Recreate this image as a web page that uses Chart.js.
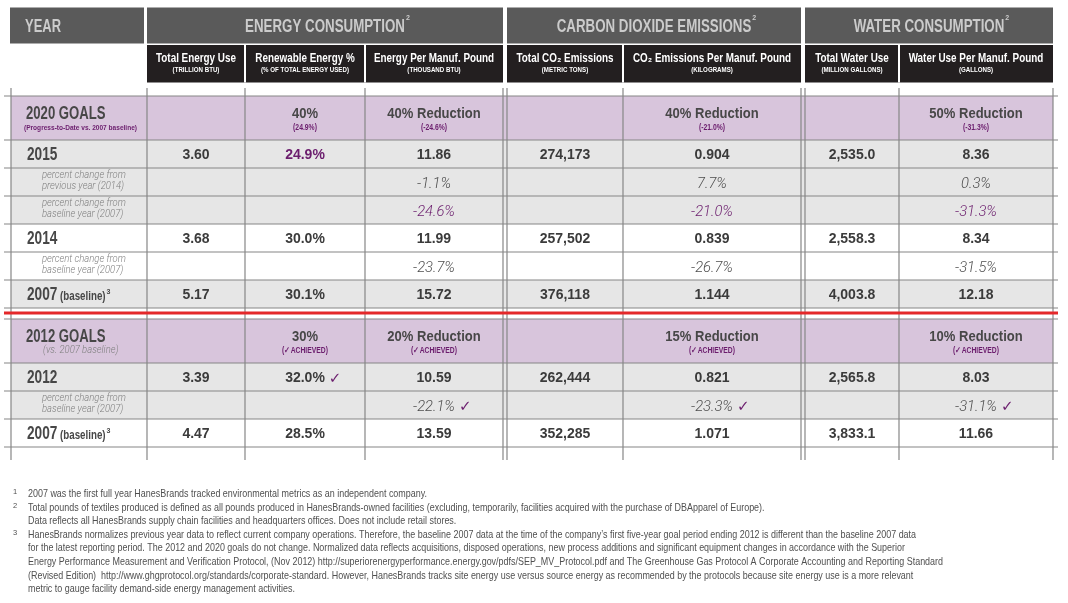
<!DOCTYPE html>
<html>
<head>
<meta charset="utf-8">
<script src="https://cdn.jsdelivr.net/npm/chart.js@4.4.1/dist/chart.umd.min.js"></script>
<style>
  html, body { margin: 0; padding: 0; background: #fff; }
  #wrap { width: 1068px; height: 603px; position: relative; }
</style>
</head>
<body>
<div id="wrap"><canvas id="tbl"></canvas></div>
<script>
// ---- data ----
const groupTitles = ['ENERGY CONSUMPTION', 'CARBON DIOXIDE EMISSIONS', 'WATER CONSUMPTION'];
const metricNames = ['Total Energy Use', 'Renewable Energy %', 'Energy Per Manuf. Pound', 'Total CO₂ Emissions', 'CO₂ Emissions Per Manuf. Pound', 'Total Water Use', 'Water Use Per Manuf. Pound'];
const metricUnits = ['(TRILLION BTU)', '(% OF TOTAL ENERGY USED)', '(THOUSAND BTU)', '(METRIC TONS)', '(KILOGRAMS)', '(MILLION GALLONS)', '(GALLONS)'];

const goals2020 = ['', '40%', '40% Reduction', '', '40% Reduction', '', '50% Reduction'];
const progress2020 = ['', '(24.9%)', '(-24.6%)', '', '(-21.0%)', '', '(-31.3%)'];
const values2015 = ['3.60', '24.9%', '11.86', '274,173', '0.904', '2,535.0', '8.36'];
const change2015vs2014 = ['', '', '-1.1%', '', '7.7%', '', '0.3%'];
const change2015vs2007 = ['', '', '-24.6%', '', '-21.0%', '', '-31.3%'];
const values2014 = ['3.68', '30.0%', '11.99', '257,502', '0.839', '2,558.3', '8.34'];
const change2014vs2007 = ['', '', '-23.7%', '', '-26.7%', '', '-31.5%'];
const values2007 = ['5.17', '30.1%', '15.72', '376,118', '1.144', '4,003.8', '12.18'];

const goals2012 = ['', '30%', '20% Reduction', '', '15% Reduction', '', '10% Reduction'];
const status2012 = ['', '(✓ACHIEVED)', '(✓ACHIEVED)', '', '(✓ACHIEVED)', '', '(✓ACHIEVED)'];
const values2012 = ['3.39', '32.0%', '10.59', '262,444', '0.821', '2,565.8', '8.03'];
const achieved2012 = [false, true, false, false, false, false, false];
const change2012vs2007 = ['', '', '-22.1%', '', '-23.3%', '', '-31.1%'];
const achievedChange2012 = [false, false, true, false, true, false, true];
const values2007b = ['4.47', '28.5%', '13.59', '352,285', '1.071', '3,833.1', '11.66'];

const footnotes = [
  ['2007 was the first full year HanesBrands tracked environmental metrics as an independent company.'],
  ['Total pounds of textiles produced is defined as all pounds produced in HanesBrands-owned facilities (excluding, temporarily, facilities acquired with the purchase of DBApparel of Europe).',
   'Data reflects all HanesBrands supply chain facilities and headquarters offices. Does not include retail stores.'],
  ['HanesBrands normalizes previous year data to reflect current company operations. Therefore, the baseline 2007 data at the time of the company’s first five-year goal period ending 2012 is different than the baseline 2007 data',
   'for the latest reporting period. The 2012 and 2020 goals do not change. Normalized data reflects acquisitions, disposed operations, new process additions and significant equipment changes in accordance with the Superior',
   'Energy Performance Measurement and Verification Protocol, (Nov 2012) http://superiorenergyperformance.energy.gov/pdfs/SEP_MV_Protocol.pdf and The Greenhouse Gas Protocol A Corporate Accounting and Reporting Standard',
   '(Revised Edition)  http://www.ghgprotocol.org/standards/corporate-standard. However, HanesBrands tracks site energy use versus source energy as recommended by the protocols because site energy use is a more relevant',
   'metric to gauge facility demand-side energy management activities.']
];

// ---- layout (scale units) ----
const metricCols = [[147, 245], [245, 365], [365, 503], [507, 623], [623, 801], [805, 899], [899, 1053]];
const groupCols = [[147, 503], [507, 801], [805, 1053]];
const vLines = [11, 147, 245, 365, 503, 507, 623, 801, 805, 899, 1053];

const C = {
  head: '#5a5a5a', headText: '#cbcbcb', sub: '#231f20', lav: '#d8c5dc', gray: '#e6e6e6',
  grid: '#868686', red: '#e4282a', purple: '#6b1d6d', dark: '#3b3b3b', label: '#474747',
  italic: '#4e4e4e', note: '#808080', foot: '#505050'
};
const SANS = '"Liberation Sans", Arial, sans-serif';
const LIGHT = 'Roboto, "Liberation Sans", sans-serif';

function txt(ctx, s, x, y, font, color, align, sx) {
  ctx.save();
  ctx.font = font;
  ctx.fillStyle = color;
  ctx.textBaseline = 'alphabetic';
  ctx.textAlign = 'left';
  const w = ctx.measureText(s).width * sx;
  const x0 = align === 'center' ? x - w / 2 : align === 'right' ? x - w : x;
  ctx.translate(x0, y);
  ctx.scale(sx, 1);
  ctx.fillText(s, 0, 0);
  ctx.restore();
  return x0 + w;
}

const tablePlugin = {
  id: 'tableDraw',
  afterDraw(chart) {
    const ctx = chart.ctx;
    const X = v => chart.scales.x.getPixelForValue(v);
    const Y = v => chart.scales.y.getPixelForValue(v);
    const rect = (x0, y0, x1, y1, c) => { ctx.fillStyle = c; ctx.fillRect(X(x0), Y(y0), X(x1) - X(x0), Y(y1) - Y(y0)); };
    const hline = (y, x0, x1, c, w) => { ctx.strokeStyle = c; ctx.lineWidth = w; ctx.beginPath(); ctx.moveTo(X(x0), Y(y)); ctx.lineTo(X(x1), Y(y)); ctx.stroke(); };
    const vline = (x, y0, y1, c, w) => { ctx.strokeStyle = c; ctx.lineWidth = w; ctx.beginPath(); ctx.moveTo(X(x), Y(y0)); ctx.lineTo(X(x), Y(y1)); ctx.stroke(); };
    const mid = c => (X(c[0]) + X(c[1])) / 2;

    // header
    rect(10, 7.5, 144, 43.5, C.head);
    txt(ctx, 'YEAR', X(25), Y(31.5), 'bold 18.5px ' + SANS, C.headText, 'left', 0.7);
    groupCols.forEach((g, i) => {
      rect(g[0], 7.5, g[1], 43.5, C.head);
      const end = txt(ctx, groupTitles[i], mid(g), Y(31.5), 'bold 18.5px ' + SANS, C.headText, 'center', 0.72);
      txt(ctx, '2', end + 1, Y(20), 'bold 7px ' + SANS, C.headText, 'left', 1);
      rect(g[0], 45, g[1], 82.5, C.sub);
    });
    [245, 365, 623, 899].forEach(x => { ctx.fillStyle = '#fff'; ctx.fillRect(X(x) - 1, Y(45), 2, Y(82.5) - Y(45)); });
    metricCols.forEach((c, i) => {
      txt(ctx, metricNames[i], mid(c), Y(62), 'bold 13px ' + SANS, '#fff', 'center', 0.76);
      txt(ctx, metricUnits[i], mid(c), Y(71.5), 'bold 7.5px ' + SANS, '#fff', 'center', 0.82);
    });

    // body rows
    const rows = [
      { t: 96, b: 140, bg: C.lav, kind: 'goal', label: '2020 GOALS', note: '(Progress-to-Date vs. 2007 baseline)', noteStyle: 'purple', main: goals2020, sub: progress2020 },
      { t: 140, b: 168, bg: C.gray, kind: 'year', label: '2015', vals: values2015, purpleCols: [1] },
      { t: 168, b: 196, bg: C.gray, kind: 'pct', lines: ['percent change from', 'previous year (2014)'], vals: change2015vs2014 },
      { t: 196, b: 224, bg: C.gray, kind: 'pct', lines: ['percent change from', 'baseline year (2007)'], vals: change2015vs2007, purple: true },
      { t: 224, b: 252, bg: '#fff', kind: 'year', label: '2014', vals: values2014 },
      { t: 252, b: 280, bg: '#fff', kind: 'pct', lines: ['percent change from', 'baseline year (2007)'], vals: change2014vs2007 },
      { t: 280, b: 308, bg: C.gray, kind: 'year', label: '2007', base: true, vals: values2007 },
      { t: 319, b: 363, bg: C.lav, kind: 'goal', label: '2012 GOALS', note: '(vs. 2007 baseline)', noteStyle: 'italic', main: goals2012, sub: status2012 },
      { t: 363, b: 391, bg: C.gray, kind: 'year', label: '2012', vals: values2012, checks: achieved2012 },
      { t: 391, b: 419, bg: C.gray, kind: 'pct', lines: ['percent change from', 'baseline year (2007)'], vals: change2012vs2007, checks: achievedChange2012 },
      { t: 419, b: 447, bg: '#fff', kind: 'year', label: '2007', base: true, vals: values2007b }
    ];
    rows.forEach(r => rect(11, r.t, 1053, r.b, r.bg));

    // grid
    vLines.forEach(x => vline(x, 88, 460, C.grid, 1.2));
    [96, 140, 168, 196, 224, 252, 280, 308, 319, 363, 391, 419, 447].forEach(y => hline(y, 4, 1058, C.grid, 1.2));
    hline(313, 4, 1058, C.red, 3.2);

    const check = (x, y) => txt(ctx, '✓', x + 4, y, '15px "DejaVu Sans", sans-serif', C.purple, 'left', 1);

    rows.forEach(r => {
      const cy = (Y(r.t) + Y(r.b)) / 2;
      if (r.kind === 'goal') {
        txt(ctx, r.label, X(26), Y(r.t) + 22.5, 'bold 17.5px ' + SANS, C.label, 'left', 0.75);
        if (r.noteStyle === 'purple') txt(ctx, r.note, X(24), Y(r.t) + 34, 'bold 8px ' + SANS, C.purple, 'left', 0.82);
        else txt(ctx, r.note, X(43), Y(r.t) + 34, 'italic 300 11px ' + LIGHT, C.note, 'left', 0.86);
        metricCols.forEach((c, i) => {
          if (r.main[i]) txt(ctx, r.main[i], mid(c), Y(r.t) + 22, 'bold 15.5px ' + SANS, C.label, 'center', 0.84);
          if (r.sub[i]) txt(ctx, r.sub[i], mid(c), Y(r.t) + 33.5, 'bold 8.5px ' + SANS, C.purple, 'center', 0.8);
        });
      } else if (r.kind === 'year') {
        const e = txt(ctx, r.label, X(27), cy + 5.5, 'bold 17.5px ' + SANS, C.label, 'left', 0.78);
        if (r.base) {
          const e2 = txt(ctx, ' (baseline)', e, cy + 5.5, 'bold 12.5px ' + SANS, C.label, 'left', 0.78);
          txt(ctx, '3', e2 + 1, cy - 0.5, 'bold 7px ' + SANS, C.label, 'left', 1);
        }
        metricCols.forEach((c, i) => {
          const col = r.purpleCols && r.purpleCols.includes(i) ? C.purple : C.dark;
          const e3 = txt(ctx, r.vals[i], mid(c), cy + 5, 'bold 14px ' + SANS, col, 'center', 1);
          if (r.checks && r.checks[i]) check(e3, cy + 5.5);
        });
      } else {
        txt(ctx, r.lines[0], X(42), cy - 4.5, 'italic 300 11px ' + LIGHT, C.note, 'left', 0.86);
        txt(ctx, r.lines[1], X(42), cy + 7, 'italic 300 11px ' + LIGHT, C.note, 'left', 0.86);
        metricCols.forEach((c, i) => {
          if (!r.vals[i]) return;
          const e3 = txt(ctx, r.vals[i], mid(c), cy + 6, 'italic 300 15.5px ' + LIGHT, r.purple ? C.purple : C.italic, 'center', 0.95);
          if (r.checks && r.checks[i]) check(e3, cy + 6);
        });
      }
    });

    // footnotes
    ctx.font = '11px ' + SANS;
    const sq = 399 / ctx.measureText(footnotes[0][0]).width;
    let y = 497;
    footnotes.forEach((fn, n) => {
      txt(ctx, String(n + 1), X(13), Y(y) - 3, '7.5px ' + SANS, C.foot, 'left', 1);
      fn.forEach(line => {
        txt(ctx, line, X(28), Y(y), '11px ' + SANS, C.foot, 'left', sq);
        y += 13.6;
      });
    });
  }
};

new Chart(document.getElementById('tbl'), {
  type: 'scatter',
  data: { datasets: [] },
  options: {
    responsive: true,
    maintainAspectRatio: false,
    animation: false,
    layout: { padding: 0 },
    scales: {
      x: { type: 'linear', min: 0, max: 1068, display: false },
      y: { type: 'linear', min: 0, max: 603, reverse: true, display: false }
    },
    plugins: { legend: { display: false }, tooltip: { enabled: false } }
  },
  plugins: [tablePlugin]
});
</script>
</body>
</html>
